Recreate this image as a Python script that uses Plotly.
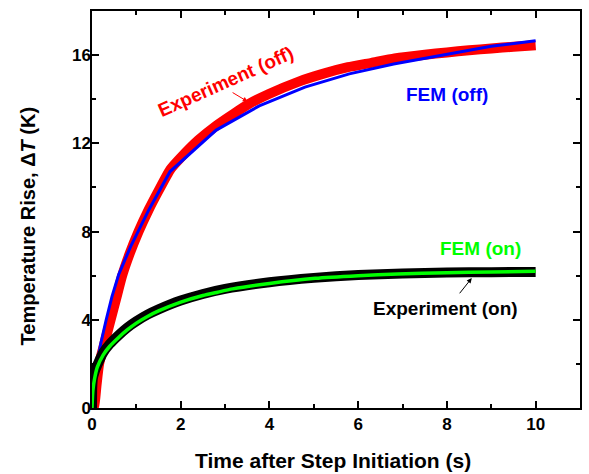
import plotly.graph_objects as go

# Experiment (off) - red
t_exp_off = [0, 0.05, 0.1, 0.16, 0.29, 0.42, 0.55, 0.68, 0.85, 1.05, 1.28, 1.5, 1.76, 2.0, 2.4, 2.8,
             3.2, 3.55, 4.0, 4.66, 5.2, 5.77, 6.3, 6.82, 7.5, 8.0, 8.5, 9.0, 9.5, 10.0]
y_exp_off = [0, 0.1, 1.0, 2.0, 3.0, 4.0, 5.0, 6.0, 7.0, 8.0, 9.0, 9.85, 10.8, 11.35, 12.15, 12.8,
             13.35, 13.8, 14.25, 14.8, 15.15, 15.45, 15.65, 15.85, 16.02, 16.12, 16.22, 16.3, 16.38, 16.45]

# FEM (off) - blue
t_fem_off = [0, 0.05, 0.118, 0.2, 0.32, 0.45, 0.6, 0.87, 1.28, 1.76, 2.8, 3.77, 4.8, 5.8, 6.8, 8.0, 9.0, 10.0]
y_fem_off = [0, 1.15, 2.04, 2.95, 4.0, 5.05, 6.04, 7.32, 8.98, 10.72, 12.6, 13.7, 14.55, 15.15, 15.6, 16.05, 16.4, 16.65]

# Experiment (on) - black
t_exp_on = [0, 0.005, 0.02, 0.06, 0.12, 0.25, 0.4, 0.6, 0.8, 1.0, 1.25, 1.5, 2.0, 2.5, 3.0,
            4.0, 5.0, 6.0, 7.0, 8.0, 9.0, 10.0]
y_exp_on = [0, 0.9, 1.35, 1.65, 1.95, 2.5, 2.9, 3.3, 3.65, 3.93, 4.23, 4.47, 4.87, 5.17, 5.4,
            5.7, 5.9, 6.03, 6.1, 6.14, 6.16, 6.17]

# FEM (on) - green
t_fem_on = [0, 0.02, 0.06, 0.12, 0.25, 0.4, 0.6, 0.8, 1.0, 1.25, 1.5, 2.0, 2.5, 2.83, 3.17, 4.0,
            5.03, 6.0, 6.89, 8.0, 9.0, 10.0]
y_fem_on = [0, 0.8, 1.35, 1.85, 2.4, 2.8, 3.2, 3.55, 3.85, 4.15, 4.4, 4.8, 5.1, 5.25, 5.4, 5.65,
            5.88, 6.0, 6.08, 6.13, 6.17, 6.2]

x_ticks = [0, 2, 4, 6, 8, 10]
y_ticks = [0, 4, 8, 12, 16]

FONT = "Liberation Sans, Arial, sans-serif"

fig = go.Figure()
fig.add_trace(go.Scatter(x=t_exp_off, y=y_exp_off, mode="lines",
                         line=dict(color="#ff0000", width=10, shape="spline", smoothing=0.5)))
fig.add_trace(go.Scatter(x=t_fem_off, y=y_fem_off, mode="lines",
                         line=dict(color="#0000ff", width=3)))
fig.add_trace(go.Scatter(x=t_exp_on, y=y_exp_on, mode="lines",
                         line=dict(color="#000000", width=10, shape="spline", smoothing=0.5)))
fig.add_trace(go.Scatter(x=t_fem_on, y=y_fem_on, mode="lines",
                         line=dict(color="#00ff00", width=3.5, shape="spline", smoothing=0.5)))

axis_common = dict(
    showline=True, linecolor="black", linewidth=1.5, mirror="ticks",
    ticks="inside", ticklen=7, tickwidth=1.5, tickcolor="black",
    showgrid=False, zeroline=False,
    tickfont=dict(family=FONT, size=17, color="black"),
)

fig.update_xaxes(range=[0, 11], tickvals=x_ticks, ticktext=[f"<b>{v}</b>" for v in x_ticks],
                 minor=dict(ticks="inside", ticklen=4, dtick=1, tick0=0, tickwidth=1.5,
                            tickcolor="black", showgrid=False),
                 **axis_common)
fig.update_yaxes(range=[0, 18], tickvals=y_ticks, ticktext=[f"<b>{v}</b>" for v in y_ticks],
                 minor=dict(ticks="inside", ticklen=4, dtick=2, tick0=0, tickwidth=1.5,
                            tickcolor="black", showgrid=False),
                 ticklabelstandoff=-4,
                 **axis_common)

ann = []
ann.append(dict(x=3.02, y=14.79, xref="x", yref="y", text="<b>Experiment (off)</b>",
                showarrow=False, textangle=-24,
                font=dict(family=FONT, size=19, color="#ff0000")))
ann.append(dict(x=3.51, y=13.89, xref="x", yref="y", ax=-16.6, ay=-10, text="",
                showarrow=True, arrowhead=2, arrowsize=1, arrowwidth=1, arrowcolor="#ff0000"))
ann.append(dict(x=8.0, y=14.23, xref="x", yref="y", text="<b>FEM (off)</b>",
                showarrow=False, font=dict(family=FONT, size=19, color="#0000ff")))
ann.append(dict(x=8.75, y=7.25, xref="x", yref="y", text="<b>FEM (on)</b>",
                showarrow=False, font=dict(family=FONT, size=19, color="#00ff00")))
ann.append(dict(x=7.97, y=4.53, xref="x", yref="y", text="<b>Experiment (on)</b>",
                showarrow=False, font=dict(family=FONT, size=19, color="#000000")))
ann.append(dict(x=8.56, y=5.89, xref="x", yref="y", ax=-13.3, ay=16.7, text="",
                showarrow=True, arrowhead=2, arrowsize=1, arrowwidth=1, arrowcolor="#000000"))
ann.append(dict(x=-0.1306, y=0.458, xref="paper", yref="paper", xanchor="center", yanchor="middle",
                text="<b>Temperature Rise, Δ<i>T</i> (K)</b>", textangle=-90, showarrow=False,
                font=dict(family=FONT, size=20, color="black")))
ann.append(dict(x=0.494, y=-0.1335, xref="paper", yref="paper", xanchor="center", yanchor="middle",
                text="<b>Time after Step Initiation (s)</b>", showarrow=False,
                font=dict(family=FONT, size=21, color="black")))

fig.update_layout(
    width=589, height=474,
    margin=dict(l=92, r=7, t=11, b=66),
    paper_bgcolor="white", plot_bgcolor="white",
    showlegend=False,
    annotations=ann,
)

fig.write_html("out.html")
